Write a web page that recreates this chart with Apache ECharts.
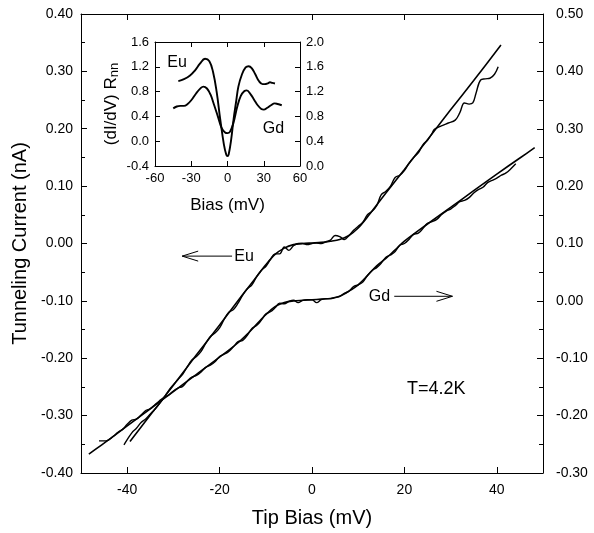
<!DOCTYPE html>
<html><head><meta charset="utf-8">
<script src="https://cdn.jsdelivr.net/npm/echarts@6/dist/echarts.min.js"></script>
<style>html,body{margin:0;padding:0;background:#fff}#c{width:594px;height:533px}</style>
</head><body><div id="c"></div>
<script>
// ---- Main plot data (Tip Bias mV, Tunneling Current nA) ----
// Eu: left axis
const euFit = [[-39.4,-0.345],[-35,-0.299],[-30,-0.247],[-25,-0.194],[-20,-0.142],[-15,-0.089],[-12,-0.058],[-10,-0.037],[-8,-0.019],[-6,-0.008],[-4,-0.002],[-2,0.000],[0,0.001],[2,0.002],[4,0.004],[6,0.007],[8,0.014],[10,0.027],[12,0.046],[14,0.067],[16,0.088],[20,0.129],[25,0.181],[30,0.233],[35,0.284],[40.9,0.346]];
const euMeas = [[-40.7,-0.351],[-40,-0.342],[-39,-0.330],[-38,-0.322],[-37,-0.312],[-36,-0.306],[-35,-0.297],[-34,-0.289],[-33,-0.279],[-32,-0.268],[-31,-0.256],[-30,-0.246],[-29,-0.237],[-28,-0.228],[-27,-0.215],[-26,-0.203],[-25,-0.197],[-24,-0.188],[-23,-0.174],[-22,-0.162],[-21,-0.156],[-20,-0.147],[-19,-0.132],[-18,-0.120],[-17,-0.115],[-16,-0.104],[-15,-0.090],[-14,-0.079],[-13,-0.072],[-12,-0.058],[-11,-0.047],[-10,-0.040],[-9,-0.028],[-8,-0.018],[-7,-0.018],[-6,-0.006],[-5,-0.012],[-4,-0.004],[-3,0.000],[-2,0.000],[-1,-0.002],[0,0.000],[1,0.001],[2,0.000],[3,0.003],[4,0.006],[5,0.014],[6,0.012],[7,0.007],[8,0.014],[9,0.023],[10,0.030],[11,0.037],[12,0.050],[13,0.056],[14,0.066],[15,0.085],[16,0.091],[17,0.100],[18,0.115],[19,0.119],[20,0.127],[21,0.140],[22,0.150],[23,0.158],[24,0.172],[25,0.180],[26,0.192],[26.5,0.199],[28,0.205],[29.5,0.210],[31,0.215],[32,0.228],[33,0.245],[34,0.243],[34.8,0.245],[35.5,0.262],[36.5,0.285],[37.5,0.287],[38.5,0.288],[39.5,0.295],[40.3,0.308]];
// Gd: right axis
const gdFit = [[-48.3,-0.267],[-45,-0.248],[-40,-0.218],[-35,-0.188],[-30,-0.158],[-25,-0.128],[-20,-0.098],[-16,-0.073],[-14,-0.058],[-12,-0.041],[-10,-0.024],[-8,-0.010],[-6,-0.003],[-4,0.000],[-2,0.001],[0,0.002],[2,0.003],[4,0.004],[6,0.008],[8,0.017],[10,0.028],[12,0.044],[14,0.061],[16,0.074],[18,0.089],[20,0.104],[25,0.134],[30,0.163],[35,0.192],[40,0.221],[45,0.249],[48.2,0.267]];
const gdMeas = [[-46.1,-0.244],[-44.6,-0.244],[-43,-0.236],[-42,-0.229],[-41,-0.224],[-40,-0.215],[-39,-0.208],[-38,-0.206],[-37,-0.199],[-36,-0.191],[-35,-0.188],[-34,-0.181],[-33,-0.174],[-32,-0.168],[-31,-0.164],[-30,-0.157],[-29,-0.152],[-28,-0.149],[-27,-0.140],[-26,-0.133],[-25,-0.130],[-24,-0.124],[-23,-0.116],[-22,-0.112],[-21,-0.106],[-20,-0.097],[-19,-0.093],[-18,-0.088],[-17,-0.080],[-16,-0.071],[-15,-0.069],[-14,-0.060],[-13,-0.048],[-12,-0.043],[-11,-0.034],[-10,-0.023],[-9,-0.019],[-8,-0.012],[-7,-0.004],[-6,-0.005],[-5,-0.001],[-4,0.001],[-3,-0.003],[-2,0.001],[-1,0.002],[0,0.002],[1,-0.003],[2,0.002],[3,0.004],[4,0.004],[5,0.006],[6,0.008],[7,0.013],[8,0.017],[9,0.025],[10,0.028],[11,0.033],[12,0.044],[13,0.053],[14,0.058],[15,0.066],[16,0.076],[17,0.080],[18,0.086],[19,0.097],[20,0.100],[21,0.107],[22,0.116],[23,0.118],[24,0.126],[25,0.135],[26,0.138],[27,0.142],[28,0.150],[29,0.156],[30,0.160],[31,0.166],[32,0.173],[33,0.175],[34,0.180],[35,0.188],[36,0.194],[37,0.198],[38,0.206],[39,0.210],[40,0.214],[41,0.219],[42,0.223],[43,0.230],[44.1,0.239]];
// ---- Inset data (Bias mV, (dI/dV) Rnn) ----
const insetEu = [[-40.7,0.97],[-36,1.00],[-31,1.06],[-27,1.14],[-22.8,1.25],[-18.6,1.33],[-15,1.29],[-12,1.12],[-9,0.80],[-6,0.35],[-3,-0.05],[-1,-0.22],[0,-0.24],[1,-0.21],[3,0.02],[5,0.35],[7,0.62],[9,0.88],[12,1.08],[15,1.19],[17.5,1.21],[20,1.18],[23,1.08],[26,0.97],[29,0.92],[31,0.92],[33,0.93],[35.2,0.95],[37,0.94],[39.3,0.93]];
// Gd on inset right axis
const insetGd = [[-44.9,0.93],[-42,0.96],[-39,0.97],[-36,0.97],[-33,1.00],[-30,1.06],[-26,1.17],[-22,1.26],[-20,1.28],[-17,1.25],[-14,1.15],[-11,0.98],[-8,0.80],[-5,0.62],[-2,0.54],[0,0.53],[2,0.55],[5,0.70],[8,0.95],[11,1.13],[14,1.21],[16,1.22],[19,1.16],[22,1.07],[25,0.98],[28,0.92],[30,0.91],[33,0.94],[36,0.98],[39,1.01],[41.5,1.00],[44.9,0.98]];
// ---- annotations (data coords) ----
const mainLabels = [{text:'Eu', pos:[-14.7,-0.023], axis:0, size:16},{text:'Gd', pos:[14.6,0.007], axis:1, size:16},{text:'T=4.2K', pos:[26.9,-0.253], axis:0, size:18}];
const mainArrows = [{from:[-17.3,-0.022], to:[-28.1,-0.022], axis:0},{from:[17.8,0.008], to:[30.4,0.008], axis:1}];
const insetLabels = [{text:'Eu', pos:[-41.8,1.26]},{text:'Gd', pos:[38.1,0.21]}];

const FONT = "'Liberation Sans', Arial, Helvetica, sans-serif";
const chart = echarts.init(document.getElementById('c'), null, {renderer:'canvas'});
const black = '#000';
const axLine = {show:true, onZero:false, lineStyle:{color:black, width:1}};
function fmt(d){return v=>v.toFixed(d);}
const lbl = (size, margin, d)=>({color:black, fontSize:size, fontFamily:FONT, margin:margin, formatter: d==null?undefined:fmt(d)});

const option = {
  animation:false,
  backgroundColor:'#fff',
  textStyle:{fontFamily:FONT, color:black},
  grid:[
    {left:81, top:14, width:462, height:461, containLabel:false},
    {left:155, top:42, width:145, height:124, containLabel:false, show:true, backgroundColor:'#fff', borderWidth:0, z:5}
  ],
  xAxis:[
    {gridIndex:0, type:'value', min:-50, max:50, splitNumber:5, axisLine:axLine, axisTick:{inside:true, length:6, lineStyle:{color:black}},
     axisLabel:Object.assign(lbl(14,10,null),{showMinLabel:false, showMaxLabel:false}), splitLine:{show:false},
     name:'Tip Bias (mV)', nameLocation:'middle', nameGap:35, nameTextStyle:{fontSize:20, color:black, fontFamily:FONT}},
    {gridIndex:0, type:'value', position:'top', min:-50, max:50, splitNumber:5, axisLine:axLine, axisTick:{inside:true, length:6, lineStyle:{color:black}},
     axisLabel:{show:false}, splitLine:{show:false}},
    {gridIndex:1, type:'value', min:-60, max:60, interval:30, axisLine:axLine, axisTick:{inside:true, length:5, lineStyle:{color:black}},
     axisLabel:lbl(13,6,null), splitLine:{show:false},
     name:'Bias (mV)', nameLocation:'middle', nameGap:31, nameTextStyle:{fontSize:17, color:black, fontFamily:FONT}, z:6},
    {gridIndex:1, type:'value', position:'top', min:-60, max:60, interval:30, axisLine:axLine, axisTick:{inside:true, length:5, lineStyle:{color:black}},
     axisLabel:{show:false}, splitLine:{show:false}, z:6}
  ],
  yAxis:[
    {gridIndex:0, type:'value', min:-0.4, max:0.4, interval:0.1, axisLine:axLine, axisTick:{inside:true, length:6, lineStyle:{color:black}},
     minorTick:{show:true, splitNumber:2, length:4, lineStyle:{color:black}}, minorSplitLine:{show:false},
     axisLabel:lbl(14,8,2), splitLine:{show:false},
     name:'Tunneling Current (nA)', nameLocation:'middle', nameGap:45, nameRotate:90, nameTextStyle:{fontSize:20, color:black, fontFamily:FONT}},
    {gridIndex:0, type:'value', position:'right', min:-0.3, max:0.5, interval:0.1, axisLine:axLine, axisTick:{inside:true, length:6, lineStyle:{color:black}},
     minorTick:{show:true, splitNumber:2, length:4, lineStyle:{color:black}}, minorSplitLine:{show:false},
     axisLabel:lbl(14,13,2), splitLine:{show:false}},
    {gridIndex:1, type:'value', min:-0.4, max:1.6, interval:0.4, axisLine:axLine, axisTick:{inside:true, length:5, lineStyle:{color:black}},
     axisLabel:lbl(13,6,1), splitLine:{show:false},
     name:'(dI/dV) R{s|nn}', nameLocation:'middle', nameGap:34, nameRotate:90,
     nameTextStyle:{fontSize:17, color:black, fontFamily:FONT, rich:{s:{fontSize:13, fontFamily:FONT, color:black, verticalAlign:'bottom', padding:[7,0,0,0]}}}, z:6},
    {gridIndex:1, type:'value', position:'right', min:0, max:2.0, interval:0.4, axisLine:axLine, axisTick:{inside:true, length:5, lineStyle:{color:black}},
     axisLabel:lbl(13,6,1), splitLine:{show:false}, z:6}
  ],
  series:[
    {name:'Eu fit', type:'line', xAxisIndex:0, yAxisIndex:0, data:euFit, showSymbol:false, smooth:0.3, lineStyle:{color:black, width:1.6}},
    {name:'Eu measured', type:'line', xAxisIndex:0, yAxisIndex:0, data:euMeas, showSymbol:false, smooth:0.4, lineStyle:{color:black, width:1.4}},
    {name:'Gd fit', type:'line', xAxisIndex:0, yAxisIndex:1, data:gdFit, showSymbol:false, smooth:0.3, lineStyle:{color:black, width:1.6}},
    {name:'Gd measured', type:'line', xAxisIndex:0, yAxisIndex:1, data:gdMeas, showSymbol:false, smooth:0.4, lineStyle:{color:black, width:1.4}},
    {name:'Eu dIdV', type:'line', xAxisIndex:2, yAxisIndex:2, data:insetEu, showSymbol:false, smooth:0.4, lineStyle:{color:black, width:1.9}, z:7},
    {name:'Gd dIdV', type:'line', xAxisIndex:2, yAxisIndex:3, data:insetGd, showSymbol:false, smooth:0.4, lineStyle:{color:black, width:1.9}, z:7}
  ]
};
chart.setOption(option);

const g = [];
mainLabels.forEach(l=>{
  const p = chart.convertToPixel({xAxisIndex:0, yAxisIndex:l.axis}, l.pos);
  g.push({type:'text', x:p[0], y:p[1], z:10, style:{text:l.text, fill:black, font:l.size+'px '+FONT, textAlign:'center', textVerticalAlign:'middle'}});
});
mainArrows.forEach(a=>{
  const s = chart.convertToPixel({xAxisIndex:0, yAxisIndex:a.axis}, a.from);
  const t = chart.convertToPixel({xAxisIndex:0, yAxisIndex:a.axis}, a.to);
  const dir = Math.sign(t[0]-s[0]);
  g.push({type:'polyline', z:10, shape:{points:[s,t]}, style:{stroke:black, lineWidth:1, fill:null}});
  g.push({type:'polyline', z:10, shape:{points:[[t[0]-dir*16,t[1]-5],t,[t[0]-dir*16,t[1]+5]]}, style:{stroke:black, lineWidth:1, fill:null}});
});
insetLabels.forEach(l=>{
  const p = chart.convertToPixel({xAxisIndex:2, yAxisIndex:2}, l.pos);
  g.push({type:'text', x:p[0], y:p[1], z:10, style:{text:l.text, fill:black, font:'16px '+FONT, textAlign:'center', textVerticalAlign:'middle'}});
});
chart.setOption({graphic:g});
</script>
</body></html>
